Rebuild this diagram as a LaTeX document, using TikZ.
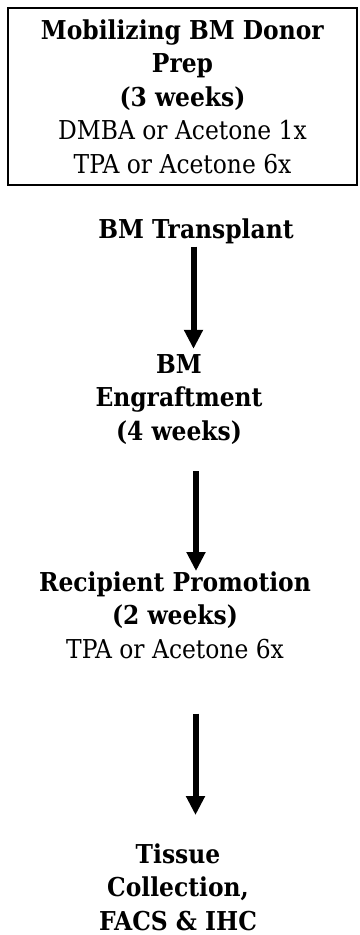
\documentclass[tikz,border=0pt]{standalone}
\usepackage{fontspec}
\setmainfont{DejaVu Serif Condensed}
\usetikzlibrary{arrows.meta}
\tikzset{
  bm text/.style={font=\fontsize{26pt}{33.5pt}\selectfont, align=center, inner sep=0pt, anchor=base},
  bm box/.style={bm text, draw, line width=1.8pt, anchor=center, minimum width=349pt, minimum height=177pt},
  bm flow/.style={draw, line width=6pt, -{Triangle[length=19pt,width=18pt]}},
}
\begin{document}
\begin{tikzpicture}[x=1pt,y=-1pt]
\useasboundingbox(0,0)rectangle(359,935);
\node[bm box](donor)at(182.5,96.5){\textbf{Mobilizing BM Donor}\\\textbf{Prep}\\\textbf{(3 weeks)}\\DMBA or Acetone 1x\\TPA or Acetone 6x};
\node[bm text](transplant)at(196,238){\textbf{BM Transplant}};
\node[bm text](engraft)at(179,440){\textbf{BM}\\\textbf{Engraftment}\\\textbf{(4 weeks)}};
\node[bm text](promo)at(175,658){\textbf{Recipient Promotion}\\\textbf{(2 weeks)}\\TPA or Acetone 6x};
\node[bm text](tissue)at(178,930){\textbf{Tissue}\\\textbf{Collection,}\\\textbf{FACS \& IHC}};
% arrows between stages
\draw[bm flow]([xshift=-2.5pt,yshift=-3pt]transplant.south)--([xshift=14.5pt,yshift=5pt]engraft.north);
\draw[bm flow]([xshift=17pt,yshift=-27pt]engraft.south)--([xshift=21pt]promo.north);
\draw[bm flow]([xshift=20.5pt,yshift=-55pt]promo.south)--([xshift=17.5pt,yshift=28pt]tissue.north);
\end{tikzpicture}
\end{document}
